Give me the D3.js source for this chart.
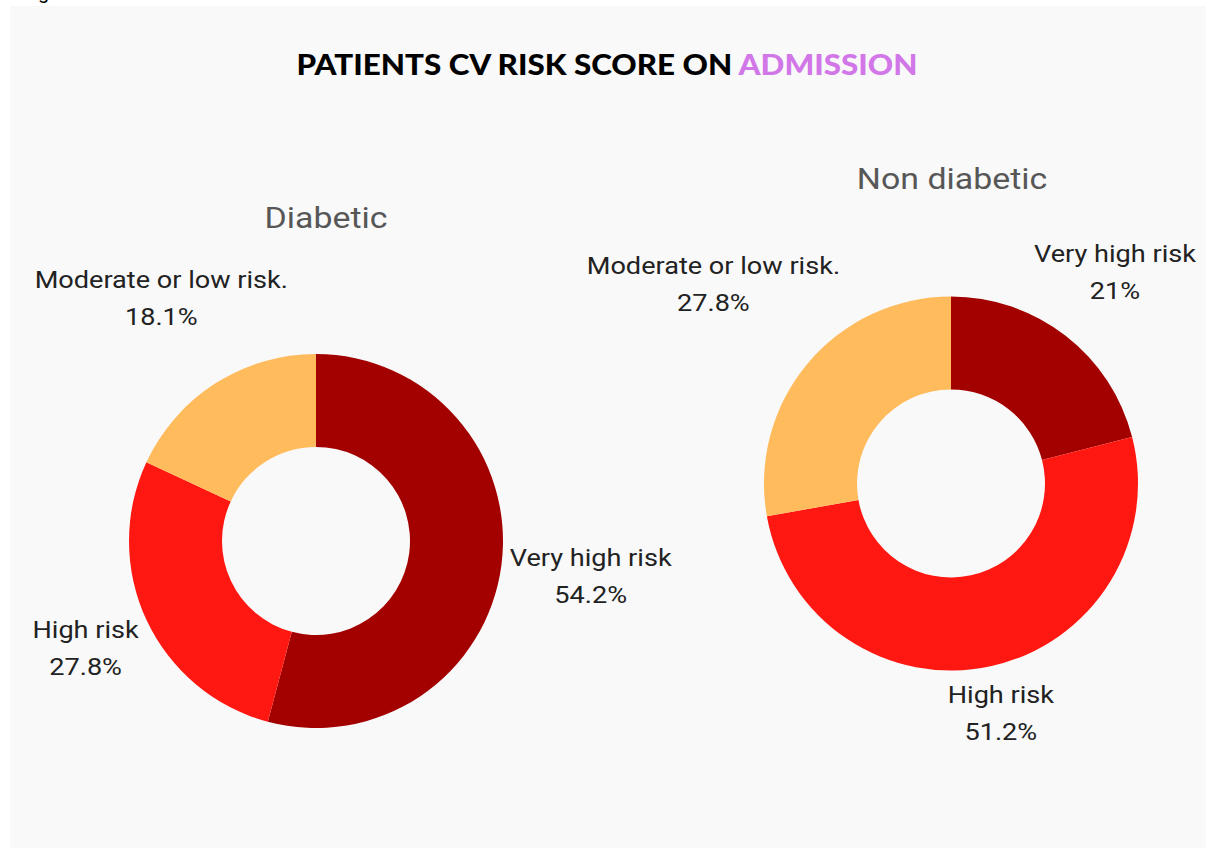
<!DOCTYPE html>
<html lang="en">
<head>
<meta charset="utf-8">
<title>Patients CV risk score on admission</title>
<script src="https://d3js.org/d3.v7.min.js"></script>
<style>
  body { margin: 0; background: #ffffff; }
  svg { display: block; }
</style>
</head>
<body>
<div id="chart"></div>
<script>
// data
var categories = ["Very high risk", "High risk", "Moderate or low risk."];
var diabeticValues = [54.2, 27.8, 18.1];
var nonDiabeticValues = [21, 51.2, 27.8];
var groupNames = ["Diabetic", "Non diabetic"];
var titleParts = ["PATIENTS CV RISK SCORE ON ", "ADMISSION"];

var colors = ["#a30000", "#ff1812", "#ffbb5c"];

var w = 1206, h = 848;
var stretch = 1.13; // text in the original is a little wider than Roboto

var svg = d3.select("#chart").append("svg")
  .attr("width", w)
  .attr("height", h);

// panel
svg.append("rect")
  .attr("x", 10).attr("y", 6)
  .attr("width", w - 10).attr("height", h - 6)
  .attr("fill", "#f9f9f9");

// caption above the panel, only its descender is visible
svg.append("text")
  .attr("x", 22).attr("y", -1)
  .attr("font-family", "Roboto, sans-serif")
  .attr("font-size", 20)
  .attr("fill", "#000")
  .text("Fig");

// title
var title = svg.append("text")
  .attr("x", 607).attr("y", 75)
  .attr("text-anchor", "middle")
  .attr("font-family", "Lato, Inter, sans-serif")
  .attr("font-weight", 900)
  .attr("font-size", 29)
  .attr("textLength", 621)
  .attr("lengthAdjust", "spacingAndGlyphs");
title.append("tspan").attr("fill", "#000").text(titleParts[0]);
title.append("tspan").attr("fill", "#d277e8").text(titleParts[1]);

var outerR = 187, innerR = 94;

var charts = [
  {name: groupNames[0], values: diabeticValues, cx: 316, cy: 541, ty: 228, tx: 326},
  {name: groupNames[1], values: nonDiabeticValues, cx: 951, cy: 483.5, ty: 189, tx: 952}
];

var pie = d3.pie().sort(null).value(function(d) { return d; });
var arc = d3.arc().innerRadius(innerR).outerRadius(outerR);

charts.forEach(function(c) {
  var g = svg.append("g").attr("transform", "translate(" + c.cx + "," + c.cy + ")");
  var arcs = pie(c.values);

  g.selectAll("path.slice")
    .data(arcs)
    .enter()
    .append("path")
    .attr("class", "slice")
    .attr("d", arc)
    .attr("fill", function(d, i) { return colors[i]; });

  svg.append("text")
    .attr("transform", "translate(" + c.tx + "," + c.ty + ") scale(" + stretch + ",1)")
    .attr("text-anchor", "middle")
    .attr("font-family", "Roboto, sans-serif")
    .attr("font-size", 30)
    .attr("fill", "#575757")
    .text(c.name);

  // labels outside, centred on the slice mid angle
  arcs.forEach(function(d, i) {
    var lab = g.append("text")
      .attr("text-anchor", "middle")
      .attr("font-family", "Roboto, sans-serif")
      .attr("font-size", 24)
      .attr("fill", "#222");
    lab.append("tspan").attr("x", 0).attr("y", 0).text(categories[i]);
    lab.append("tspan").attr("x", 0).attr("y", 37).text(c.values[i] + "%");

    var bb = lab.node().getBBox();
    var bw = bb.width * stretch;
    var a = (d.startAngle + d.endAngle) / 2;
    var s = Math.sin(a), co = Math.cos(a);
    var dist = outerR + 5 + (bw / 2) * Math.abs(s) + (bb.height / 2) * Math.abs(co);
    var px = dist * s, py = -dist * co;
    var by = bb.y + bb.height / 2;
    lab.attr("transform", "translate(" + px + "," + (py - by) + ") scale(" + stretch + ",1)");
  });
});
</script>
</body>
</html>
